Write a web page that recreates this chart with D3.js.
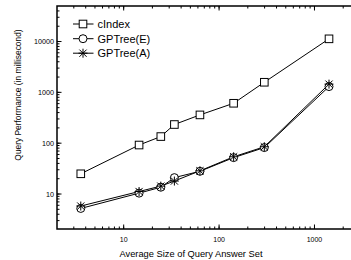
<!DOCTYPE html>
<html lang="en">
<head>
<meta charset="UTF-8" />
<title>Query Performance</title>
<style>
  html, body { margin: 0; padding: 0; background: #fff; overflow: hidden; }
  svg { display: block; font-family: Arial, "Liberation Sans", sans-serif; }
  .line { fill: none; stroke: #000; stroke-width: 1px; }
  .frame { fill: none; stroke: #000; stroke-width: 1.5px; }
</style>
</head>
<body>
<svg width="351" height="260"></svg>
<script src="https://d3js.org/d3.v7.min.js"></script>
<script>
const sizes = [3.55, 14.5, 24.5, 34, 63, 142, 298, 1420];
const cIndex = [25, 92, 135, 233, 360, 610, 1580, 11300];
const gpE = [5.2, 10.4, 13.6, 21, 28, 52, 82, 1300];
const gpA = [5.8, 11.2, 14.3, 18, 28.6, 54, 85, 1450];
const seriesNames = ["cIndex", "GPTree(E)", "GPTree(A)"];
const xTicks = [10, 100, 1000];
const yTicks = [10, 100, 1000, 10000];

const svg = d3.select("svg");
const plotL = 57, plotT = 6, plotB = 229, plotR = 360;

const x = d3.scaleLog().domain([2, 3000]).range([plotL, plotR]);
const y = d3.scaleLog().domain([2.05, 50000]).range([plotB, plotT]);

const minors = (lo, hi) => {
  const out = [];
  for (let p = lo; p < hi; p *= 10)
    for (let k = 1; k < 10; k++) out.push(p * k);
  return out;
};
const xMinor = minors(1, 10000).filter(v => v > 2 && v < 3000);
const yMinor = minors(1, 100000).filter(v => v > 2.05 && v < 50000);

const g = svg.append("g").attr("stroke", "#000").attr("stroke-width", 1);

// ticks (all inward)
function ticks(vals, scale, len, orient) {
  vals.forEach(v => {
    const p = scale(v);
    if (orient === "bottom") g.append("line").attr("x1", p).attr("x2", p).attr("y1", plotB).attr("y2", plotB - len);
    if (orient === "top") g.append("line").attr("x1", p).attr("x2", p).attr("y1", plotT).attr("y2", plotT + len);
    if (orient === "left") g.append("line").attr("y1", p).attr("y2", p).attr("x1", plotL).attr("x2", plotL + len);
  });
}
ticks(xMinor, x, 2.5, "bottom");
ticks(xTicks, x, 4.5, "bottom");
ticks(xMinor, x, 2.5, "top");
ticks(xTicks, x, 4.5, "top");
ticks(yMinor, y, 2.5, "left");
ticks(yTicks, y, 4.5, "left");

svg.append("path").attr("class", "frame")
  .attr("d", `M${plotR},${plotT}H${plotL}V${plotB}H${plotR}`);

// tick labels
svg.selectAll(".xl").data(xTicks).join("text")
  .attr("x", d => x(d)).attr("y", 241.5)
  .attr("text-anchor", "middle").attr("font-size", 7).text(d => d);
svg.selectAll(".yl").data(yTicks).join("text")
  .attr("x", 54).attr("y", d => y(d) + 2.5)
  .attr("text-anchor", "end").attr("font-size", 7.2).text(d => d);

svg.append("text").attr("x", 191).attr("y", 256.5)
  .attr("text-anchor", "middle").attr("font-size", 9.3)
  .text("Average Size of Query Answer Set");
svg.append("text").attr("transform", "translate(20.5,95) rotate(-90)")
  .attr("text-anchor", "middle").attr("font-size", 8.4)
  .text("Query Performance (in millisecond)");

// markers
function marker(sel, type) {
  if (type === 0) {
    sel.append("rect").attr("x", -3.8).attr("y", -3.8).attr("width", 7.6).attr("height", 7.6)
      .attr("fill", "#fff").attr("stroke", "#000").attr("stroke-width", 1);
  } else if (type === 1) {
    sel.append("circle").attr("r", 4).attr("fill", "#fff").attr("stroke", "#000").attr("stroke-width", 1);
  } else {
    const r = 4.5;
    sel.append("path").attr("fill", "none").attr("stroke", "#000").attr("stroke-width", 1)
      .attr("d", `M0,${-r}V${r}M${-r},0H${r}M${-r*0.8},${-r*0.8}L${r*0.8},${r*0.8}M${-r*0.8},${r*0.8}L${r*0.8},${-r*0.8}`);
  }
}

const line = d3.line().x(d => x(d[0])).y(d => y(d[1]));
const allSeries = [cIndex, gpE, gpA];
allSeries.forEach(vals => {
  const pts = sizes.map((s, j) => [s, vals[j]]);
  svg.append("path").attr("class", "line").attr("d", line(pts));
});
allSeries.forEach((vals, i) => {
  sizes.forEach((s, j) => {
    const m = svg.append("g").attr("transform", `translate(${x(s)},${y(vals[j])})`);
    marker(m, i);
  });
});

// legend
const legY = [24, 38.7, 53.2];
seriesNames.forEach((name, i) => {
  svg.append("line").attr("x1", 73).attr("x2", 93.5).attr("y1", legY[i]).attr("y2", legY[i])
    .attr("stroke", "#000").attr("stroke-width", 1);
  marker(svg.append("g").attr("transform", `translate(83,${legY[i]})`), i);
  svg.append("text").attr("x", 97.5).attr("y", legY[i] + 3.8)
    .attr("font-size", 11).text(name);
});
</script>
</body>
</html>
